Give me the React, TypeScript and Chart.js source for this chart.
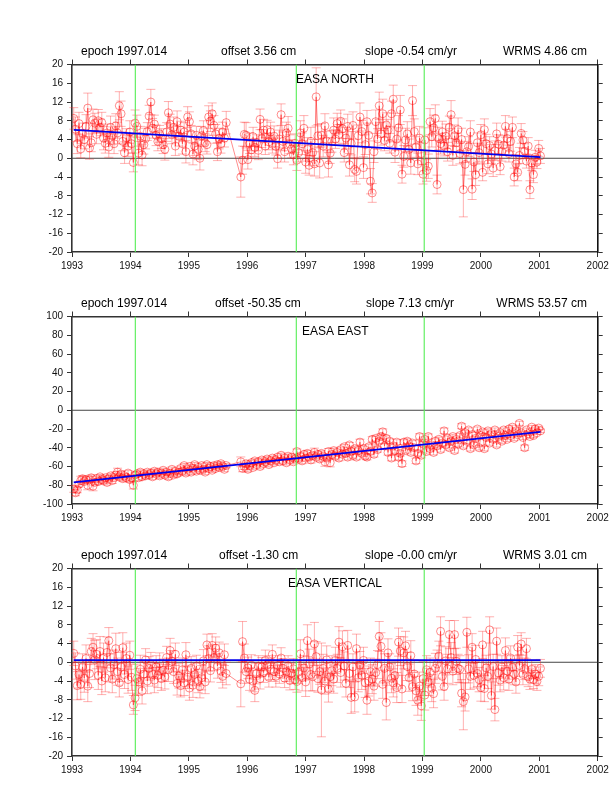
import React, { useEffect, useRef } from "react";
import { Chart, registerables } from "chart.js";

Chart.register(...registerables);

const epochs = [
  1993.03,1993.06,1993.09,1993.12,1993.15,1993.18,1993.21,1993.24,1993.27,1993.30,1993.33,1993.36,1993.39,1993.42,1993.45,1993.48,1993.51,1993.54,1993.57,1993.60,
  1993.63,1993.66,1993.69,1993.72,1993.75,1993.78,1993.81,1993.84,1993.87,1993.90,1993.93,1993.96,1993.99,1994.02,1994.05,1994.08,1994.11,1994.14,1994.17,1994.20,
  1994.23,1994.26,1994.29,1994.32,1994.35,1994.38,1994.41,1994.44,1994.47,1994.50,1994.53,1994.56,1994.59,1994.62,1994.65,1994.68,1994.71,1994.74,1994.77,1994.80,
  1994.83,1994.86,1994.89,1994.92,1994.95,1994.98,1995.01,1995.04,1995.07,1995.10,1995.13,1995.16,1995.19,1995.22,1995.25,1995.28,1995.31,1995.34,1995.37,1995.40,
  1995.43,1995.46,1995.49,1995.52,1995.55,1995.58,1995.61,1995.64,1995.89,1995.92,1995.95,1995.98,1996.01,1996.04,1996.07,1996.10,1996.13,1996.16,1996.19,1996.22,
  1996.25,1996.28,1996.31,1996.34,1996.37,1996.40,1996.43,1996.46,1996.49,1996.52,1996.55,1996.58,1996.61,1996.64,1996.67,1996.70,1996.73,1996.76,1996.79,1996.82,
  1996.85,1996.88,1996.91,1996.94,1996.97,1997.00,1997.03,1997.06,1997.09,1997.12,1997.15,1997.18,1997.21,1997.24,1997.27,1997.30,1997.33,1997.36,1997.39,1997.42,
  1997.45,1997.48,1997.51,1997.54,1997.57,1997.60,1997.63,1997.66,1997.69,1997.72,1997.75,1997.78,1997.81,1997.84,1997.87,1997.90,1997.93,1997.96,1997.99,1998.02,
  1998.05,1998.08,1998.11,1998.14,1998.17,1998.20,1998.23,1998.26,1998.29,1998.32,1998.35,1998.38,1998.41,1998.44,1998.47,1998.50,1998.53,1998.56,1998.59,1998.62,
  1998.65,1998.68,1998.71,1998.74,1998.77,1998.80,1998.83,1998.86,1998.89,1998.92,1998.95,1998.98,1999.01,1999.04,1999.07,1999.10,1999.13,1999.16,1999.19,1999.22,
  1999.25,1999.28,1999.31,1999.34,1999.37,1999.40,1999.43,1999.46,1999.49,1999.52,1999.55,1999.58,1999.61,1999.64,1999.67,1999.70,1999.73,1999.76,1999.79,1999.82,
  1999.85,1999.88,1999.91,1999.94,1999.97,2000.00,2000.03,2000.06,2000.09,2000.12,2000.15,2000.18,2000.21,2000.24,2000.27,2000.30,2000.33,2000.36,2000.39,2000.42,
  2000.45,2000.48,2000.51,2000.54,2000.57,2000.60,2000.63,2000.66,2000.69,2000.72,2000.75,2000.78,2000.81,2000.84,2000.87,2000.90,2000.93,2000.96,2000.99,2001.02,
];

const north = [
  8.5,6.2,3.1,7.4,2.0,5.3,4.0,6.8,10.7,2.2,3.3,8.2,7.5,5.1,8.0,6.6,7.6,4.3,3.2,5.4,
  2.4,6.6,4.8,3.1,6.9,5.4,11.2,9.5,3.6,1.2,4.4,2.6,5.6,3.1,-0.9,7.5,6.8,1.1,4.7,0.7,
  2.9,4.2,5.7,9.0,12.0,6.4,7.3,4.9,3.6,5.2,4.2,2.9,1.9,5.6,9.7,7.3,5.0,6.6,2.6,7.8,
  4.7,6.0,3.1,5.6,1.4,8.8,7.8,5.2,0.9,2.6,4.9,1.9,0.0,4.8,5.9,3.3,2.9,8.8,7.9,9.5,
  7.0,5.2,1.4,4.2,3.1,5.6,4.3,7.6,-4.0,-0.4,5.1,4.9,-0.3,3.2,1.8,4.6,2.3,3.3,1.7,8.3,
  4.2,6.0,2.6,6.1,3.5,5.6,3.0,4.7,2.5,-0.1,4.1,9.3,3.6,1.4,5.4,6.4,3.0,2.0,0.7,3.2,
  -0.4,1.2,5.4,3.1,6.4,-0.8,1.9,-1.5,3.6,1.2,-1.2,13.1,4.8,-1.0,4.9,2.6,6.9,3.7,-1.4,1.1,
  3.6,6.0,4.1,7.4,5.1,7.9,6.3,1.2,4.3,6.8,-1.4,3.2,7.0,-2.4,-2.8,4.8,8.8,5.7,-2.0,2.9,
  7.8,4.9,-4.9,-7.4,1.4,7.8,4.1,11.2,5.2,9.5,3.8,7.1,6.0,3.2,9.5,12.6,1.3,4.1,6.5,10.3,
  -3.4,0.4,3.9,5.2,1.9,-1.0,12.3,5.7,2.4,-1.2,4.3,1.0,-3.4,3.9,-2.6,-1.7,7.8,4.6,6.5,8.5,
  -5.6,4.2,3.1,5.6,2.6,4.7,1.4,6.6,9.3,0.6,4.8,3.3,6.1,1.0,4.0,-6.7,-1.3,1.4,2.5,5.6,
  -6.6,-0.8,-3.5,3.3,1.2,5.0,-3.0,6.1,3.1,-1.2,2.7,0.9,-2.1,1.6,5.2,3.0,-1.8,1.4,2.8,6.8,
  4.2,1.0,3.6,6.6,-4.0,-1.2,-3.0,0.6,5.3,3.9,1.5,-0.6,2.6,-6.7,-1.0,-3.5,0.2,-0.8,2.1,0.5,
];
const northErr = [
  2.3,2.6,2.1,2.4,1.9,2.2,2.0,2.5,3.2,2.4,1.9,2.3,2.1,2.0,2.4,1.8,2.2,2.5,2.1,1.9,
  2.2,2.4,1.9,2.1,2.6,2.3,3.0,2.7,2.0,2.3,1.9,2.2,2.4,2.0,2.0,2.8,2.4,2.5,2.1,2.3,
  2.0,2.2,1.9,2.3,2.7,2.1,1.9,2.2,2.0,1.8,2.1,1.9,2.3,2.0,2.4,2.1,1.9,2.2,2.0,2.3,
  2.1,1.9,2.2,2.0,2.4,2.2,2.1,1.8,2.3,2.0,1.9,2.2,2.5,2.0,2.1,1.9,2.0,2.4,2.2,2.3,
  2.1,2.0,1.9,2.2,2.0,2.1,1.9,2.4,4.3,3.0,2.6,2.7,2.0,2.2,1.8,2.0,1.9,1.7,2.0,2.2,
  1.9,2.3,1.8,2.0,1.7,2.1,1.9,2.2,1.8,2.0,1.9,2.3,2.0,2.2,2.3,2.5,2.0,1.9,2.1,2.0,
  2.2,2.0,2.6,2.3,2.7,2.4,2.5,2.1,3.0,2.8,2.6,6.2,2.4,3.2,2.5,2.3,2.6,2.1,2.6,2.2,
  2.3,2.6,2.0,2.2,2.1,2.4,2.1,2.0,2.3,2.6,2.4,2.5,2.9,2.6,2.7,2.3,3.0,2.4,2.3,2.1,
  2.4,2.6,2.7,2.0,2.3,2.5,2.2,2.9,2.4,3.1,2.2,2.6,2.3,2.1,2.7,3.0,2.2,2.4,2.6,3.1,
  1.9,2.3,2.5,2.6,2.2,2.4,3.2,2.7,2.2,2.3,2.5,2.4,2.1,2.6,2.3,2.6,2.8,2.2,2.7,2.9,
  2.0,2.4,2.2,2.3,2.1,2.6,2.0,2.4,3.0,2.1,2.3,2.0,2.5,2.2,2.4,5.8,2.3,2.2,2.1,2.4,
  2.2,2.0,2.3,2.1,2.0,2.2,1.8,2.3,2.0,2.1,1.9,2.0,1.8,2.1,2.3,2.0,1.7,2.0,2.1,2.3,
  2.0,1.8,2.1,2.2,1.9,2.0,1.8,1.7,2.1,1.8,1.6,1.5,1.8,1.9,1.6,1.7,1.5,1.4,1.7,1.6,
];

const east = [
  -84,-88,-85,-79,-75,-73,-76,-74,-80,-74,-72,-81,-77,-73,-76,-71,-74,-75,-72,-77,
  -73,-70,-75,-72,-69,-66,-71,-68,-73,-70,-72,-67,-74,-72,-80,-69,-68,-72,-66,-71,
  -68,-70,-66,-69,-67,-71,-65,-68,-66,-70,-67,-64,-69,-66,-71,-67,-63,-69,-65,-68,
  -66,-62,-65,-59,-67,-63,-60,-66,-62,-58,-65,-61,-64,-59,-63,-66,-58,-62,-60,-64,
  -59,-62,-58,-61,-57,-60,-63,-59,-55,-62,-60,-57,-63,-59,-56,-61,-54,-58,-55,-60,
  -53,-57,-55,-52,-58,-54,-51,-56,-53,-50,-55,-48,-54,-51,-56,-49,-53,-50,-55,-52,
  -44,-52,-49,-54,-47,-51,-46,-50,-53,-48,-45,-50,-47,-52,-46,-49,-55,-51,-44,-56,
  -47,-43,-49,-45,-51,-42,-47,-39,-46,-50,-37,-44,-48,-41,-50,-43,-34,-46,-41,-49,
  -50,-39,-44,-31,-47,-30,-42,-33,-28,-23,-38,-30,-45,-33,-51,-38,-43,-34,-50,-46,
  -57,-34,-43,-33,-38,-45,-35,-40,-54,-46,-28,-48,-36,-31,-44,-28,-41,-37,-45,-33,
  -38,-31,-42,-35,-22,-37,-30,-40,-33,-28,-43,-31,-36,-27,-17,-38,-24,-33,-21,-41,
  -26,-37,-30,-20,-40,-27,-23,-41,-29,-22,-35,-25,-31,-21,-37,-28,-24,-33,-21,-27,
  -31,-20,-27,-18,-30,-22,-26,-14,-24,-29,-40,-21,-25,-28,-18,-27,-20,-24,-19,-22,
];
const eastErr = [
  3.5,3.2,3.0,2.8,4.6,3.4,2.6,3.0,4.8,2.9,3.1,4.9,2.8,2.6,3.0,2.5,2.7,2.9,2.5,2.8,
  2.7,2.6,3.1,2.5,3.4,4.2,2.8,2.6,2.9,2.5,2.7,2.6,3.0,2.5,4.0,2.7,2.8,3.0,2.6,2.7,
  2.5,2.7,2.4,2.6,2.5,2.8,2.4,2.6,2.5,2.7,2.4,2.3,2.6,2.5,2.8,2.6,2.4,2.7,2.5,2.6,
  2.5,2.4,2.6,2.3,2.7,2.5,2.4,2.6,2.5,2.3,2.6,2.4,2.5,2.3,2.4,2.6,2.3,2.5,2.4,2.5,
  2.4,2.5,2.3,2.4,2.3,2.4,2.5,2.3,5.2,3.6,3.2,2.9,2.8,2.6,2.4,2.5,2.3,2.4,2.3,2.5,
  2.4,2.5,2.3,2.4,2.5,2.3,2.2,2.4,2.3,2.2,2.4,2.3,2.4,2.2,2.5,2.3,2.4,2.2,2.4,2.3,
  2.6,2.5,2.7,3.0,2.6,2.8,3.2,2.7,3.4,2.9,4.6,2.8,2.6,3.0,2.7,2.8,4.8,2.6,3.2,4.4,
  2.7,2.6,2.8,2.5,3.0,2.6,2.8,2.5,2.7,3.0,2.6,2.7,2.9,2.5,2.8,2.6,3.1,2.7,2.6,2.8,
  2.9,2.6,2.7,2.8,2.9,2.6,2.7,2.8,3.0,3.1,2.6,2.7,2.8,2.6,2.9,2.7,2.8,2.6,2.9,2.8,
  3.0,2.5,2.7,2.6,2.5,2.7,2.6,2.5,2.9,2.7,2.9,2.8,2.7,2.5,2.6,2.7,2.5,2.4,2.6,2.5,
  2.5,2.4,2.6,2.5,3.0,2.4,2.5,2.6,2.4,2.3,2.6,2.4,2.5,2.3,2.6,2.4,2.3,2.4,2.3,2.5,
  2.3,2.4,2.3,2.2,2.4,2.3,2.2,2.4,2.3,2.2,2.3,2.2,2.3,2.1,2.3,2.2,2.1,2.3,2.1,2.2,
  2.3,2.1,2.2,2.1,2.2,2.1,2.2,2.2,2.0,2.1,2.8,2.0,2.1,2.0,1.9,2.0,1.9,1.8,1.9,1.8,
];

const vertical = [
  1.9,-0.8,-5.0,-2.6,-4.7,-1.0,-3.4,0.8,-5.1,-2.4,2.3,3.2,0.5,1.7,-2.8,2.3,-4.0,1.0,-3.3,2.1,
  4.6,-1.2,-3.6,-0.5,2.9,-2.0,-4.4,-1.0,3.1,-2.6,0.8,-3.7,1.5,-3.2,-9.1,-7.6,-3.5,-4.2,-1.5,-6.1,
  -2.5,0.5,-4.0,-1.3,-0.5,-2.6,-3.8,-1.0,-2.8,-0.3,-3.5,-1.7,-3.1,1.0,-1.6,2.5,0.2,-2.0,1.7,-4.5,
  -2.9,-5.0,-1.6,-4.4,1.6,-3.2,-5.5,-1.3,-4.9,-2.6,-0.8,-4.0,-5.2,-3.3,0.3,-4.2,3.7,0.8,-1.8,3.6,
  1.0,3.0,-0.8,2.0,-1.9,-3.0,1.6,-2.4,-4.6,4.4,0.9,-2.0,-1.2,-3.6,-0.6,-4.0,-6.0,-2.4,-0.9,-3.5,
  -1.0,-2.2,0.4,-0.6,-3.2,-1.5,1.7,-2.0,-3.0,-0.7,-2.5,0.9,-1.3,-3.4,-2.0,-0.8,-3.9,-2.4,-1.4,-3.7,
  -4.1,-2.1,1.8,-3.3,-1.2,-4.2,4.6,-0.4,-2.6,-3.1,3.9,1.2,-3.5,-2.0,-5.9,-1.3,-4.0,0.5,-5.7,-3.1,
  -1.8,-3.6,0.4,-1.3,4.3,-2.2,3.3,-0.8,-4.5,3.6,-2.4,-7.5,-1.0,-7.4,2.9,-3.3,-0.6,-2.8,0.4,-4.4,
  -8.1,-4.0,-2.0,-3.6,-5.1,-2.2,-0.5,5.5,3.4,-4.7,-1.3,-8.6,2.0,-1.0,-3.4,-4.4,-2.8,-5.4,4.3,2.4,
  -5.7,2.0,3.5,-0.9,-3.3,1.4,-5.2,-2.5,-6.1,-8.1,-5.1,-9.3,-3.5,-7.0,-1.6,-4.2,-2.2,-5.5,-6.7,-1.3,
  -0.4,1.3,6.6,-3.0,-5.2,0.3,-1.4,5.9,1.0,-1.9,5.9,0.2,-1.3,-1.5,-6.6,-8.4,-7.4,6.4,-1.4,-3.0,
  3.2,-2.8,0.6,-2.4,-3.7,-5.4,3.7,-5.6,-1.2,-3.0,6.9,-7.1,-0.9,-10.1,4.5,-2.3,-3.8,-1.0,-3.3,2.5,
  -1.9,-3.6,0.9,-1.1,-2.5,-4.2,3.2,-0.7,3.9,-2.6,-1.4,2.9,-3.1,-3.6,-1.5,-3.7,-2.5,-4.1,-3.0,-1.3,
];
const verticalErr = [
  2.6,2.8,3.0,2.9,3.2,2.8,3.0,2.9,3.3,3.0,2.8,2.9,4.2,3.1,3.0,3.2,2.9,3.1,3.0,3.3,
  2.8,3.0,2.9,3.1,3.3,2.9,3.0,3.1,3.2,3.0,3.3,2.9,3.0,2.8,2.0,2.7,3.1,2.9,3.0,2.8,
  2.6,2.4,2.7,2.5,2.6,2.5,2.7,2.4,2.6,2.3,2.5,2.4,2.6,2.4,2.5,2.6,2.3,2.5,2.4,2.5,
  2.6,2.4,2.5,2.7,2.6,2.4,2.6,2.5,2.6,2.4,2.3,2.5,2.4,2.6,2.4,2.5,2.3,2.7,2.4,2.5,
  2.8,2.4,2.6,2.3,2.4,2.5,2.3,2.4,4.9,4.3,3.0,2.5,2.3,2.4,2.2,2.3,2.4,2.2,2.3,2.2,
  2.0,2.1,2.2,2.0,2.1,2.2,2.0,2.1,2.3,2.1,2.0,2.2,2.1,2.0,2.1,2.2,2.0,2.1,2.2,2.1,
  2.3,2.4,3.0,2.8,2.6,3.1,3.4,3.2,3.5,3.0,4.6,3.2,2.9,2.7,10.0,3.0,2.8,3.0,2.8,3.1,
  3.2,3.0,2.8,3.0,3.3,3.1,3.4,3.0,2.9,3.2,3.0,3.4,2.8,3.2,3.1,3.0,2.9,3.0,2.8,3.1,
  3.0,3.2,2.9,3.1,3.0,2.9,3.0,3.2,2.9,3.0,3.1,3.7,3.0,2.8,3.1,3.0,2.9,3.2,3.0,3.1,
  2.9,3.4,3.1,3.0,2.9,3.2,3.0,3.0,3.1,3.2,3.0,3.1,3.6,3.2,3.0,2.9,3.1,2.9,3.0,3.2,
  3.0,3.2,3.1,2.9,2.9,3.0,3.1,3.0,3.2,2.9,3.0,2.8,3.0,2.9,2.9,6.0,3.0,3.2,3.0,2.8,
  2.9,2.7,3.0,2.8,2.6,2.9,2.9,2.8,2.7,2.6,2.8,2.9,2.6,2.4,2.8,2.6,2.5,2.4,2.6,2.7,
  2.5,2.4,2.6,2.5,2.3,2.4,2.5,2.3,2.4,2.2,2.3,2.2,2.1,2.2,2.0,1.9,2.0,1.9,2.0,1.9,
];

const fitEpochs = [1993.03, 2001.02];
const northFit = [6.05, 0.25];
const eastFit = [-77, -23];
const verticalFit = [0.45, 0.45];

const eventEpochs = [1994.084, 1996.84, 1999.03];
const axisYears = [1993, 2002];

const northTicks = [20, -20, 4];
const eastTicks = [100, -100, 20];
const verticalTicks = [20, -20, 4];

const panelTitles = ["EASA NORTH", "EASA EAST", "EASA VERTICAL"];
const epochLabels = ["epoch 1997.014", "epoch 1997.014", "epoch 1997.014"];
const offsetLabels = ["offset 3.56 cm", "offset -50.35 cm", "offset -1.30 cm"];
const slopeLabels = ["slope -0.54 cm/yr", "slope 7.13 cm/yr", "slope -0.00 cm/yr"];
const wrmsLabels = ["WRMS 4.86 cm", "WRMS 53.57 cm", "WRMS 3.01 cm"];

const FONT = "'Liberation Sans', Arial, sans-serif";
const AXIS = "#333333";

const CANVAS_W = 612;
const CANVAS_H = 252;
const AREA_TOP = 40.5;
const AREA_BOTTOM = 228;
const AREA_LEFT = 72;
const AREA_RIGHT = 597.7;

type PanelProps = {
  index: number;
  top: number;
  values: number[];
  errors: number[];
  fit: number[];
  ticks: number[];
  titleX: number;
  offsetX: number;
  slopeX: number;
};

function Panel({ index, top, values, errors, fit, ticks, titleX, offsetX, slopeX }: PanelProps) {
  const ref = useRef<HTMLCanvasElement | null>(null);
  useEffect(() => {
    if (!ref.current) return;
    const headerPlugin = {
      id: "header",
      afterDraw(chart: any) {
        const c = chart.ctx;
        c.save();
        c.fillStyle = "#000";
        c.font = `12px ${FONT}`;
        c.textBaseline = "alphabetic";
        c.textAlign = "left";
        c.fillText(epochLabels[index], 81, 31);
        c.fillText(offsetLabels[index], offsetX, 31);
        c.fillText(slopeLabels[index], slopeX, 31);
        c.textAlign = "right";
        c.fillText(wrmsLabels[index], 587, 31);
        c.textAlign = "left";
        c.fillText(panelTitles[index], titleX, 59);
        c.restore();
      },
    };
    const errorBars = {
      id: "errorBars",
      beforeDatasetDraw(chart: any, args: any) {
        if (args.index !== 0) return;
        const c = chart.ctx;
        const xs = chart.scales.x;
        const ys = chart.scales.y;
        c.save();
        c.strokeStyle = "rgba(255,40,40,0.36)";
        c.lineWidth = 1;
        epochs.forEach((t, i) => {
          const x = xs.getPixelForValue(t);
          const hi = ys.getPixelForValue(values[i] + errors[i]);
          const lo = ys.getPixelForValue(values[i] - errors[i]);
          c.beginPath();
          c.moveTo(x, hi);
          c.lineTo(x, lo);
          c.moveTo(x - 4.5, hi);
          c.lineTo(x + 4.5, hi);
          c.moveTo(x - 4.5, lo);
          c.lineTo(x + 4.5, lo);
          c.stroke();
        });
        c.restore();
      },
    };
    const [yMax, yMin, yStep] = ticks;
    const fixWidth = (w: number) => (s: any) => {
      s.width = w;
    };
    const fixHeight = (h: number) => (s: any) => {
      s.height = h;
    };
    const tickGrid = {
      display: true,
      drawOnChartArea: false,
      drawTicks: true,
      tickLength: 5,
      color: AXIS,
      lineWidth: 1,
    };
    const chart = new Chart(ref.current, {
      type: "line",
      data: {
        datasets: [
          {
            label: "series",
            data: epochs.map((t, i) => ({ x: t, y: values[i] })),
            order: 3,
            borderColor: "rgba(255,0,0,0.5)",
            borderWidth: 0.9,
            pointRadius: 4,
            pointBorderWidth: 1,
            pointBorderColor: "rgba(255,0,0,0.45)",
            pointBackgroundColor: "rgba(0,0,0,0)",
            tension: 0,
          },
          {
            label: "fit",
            data: fitEpochs.map((t, i) => ({ x: t, y: fit[i] })),
            order: 0,
            borderColor: "#0000ee",
            borderWidth: 1.8,
            pointRadius: 0,
          },
          ...eventEpochs.map((t, k) => ({
            label: `event ${k + 1}`,
            data: [
              { x: t, y: yMin },
              { x: t, y: yMax },
            ],
            order: 1,
            borderColor: "#55ee55",
            borderWidth: 1.1,
            pointRadius: 0,
          })),
          {
            label: "zero",
            data: axisYears.map((t) => ({ x: t, y: 0 })),
            order: 4,
            borderColor: "#444444",
            borderWidth: 1,
            pointRadius: 0,
          },
        ],
      },
      options: {
        animation: false,
        responsive: false,
        devicePixelRatio: 1,
        parsing: false,
        normalized: true,
        layout: { padding: 0 },
        plugins: {
          legend: { display: false },
          title: { display: false },
          tooltip: { enabled: false },
        },
        scales: {
          x: {
            type: "linear",
            position: "bottom",
            min: axisYears[0],
            max: axisYears[1],
            afterFit: fixHeight(CANVAS_H - AREA_BOTTOM),
            grid: tickGrid,
            border: { color: AXIS, width: 1.6 },
            ticks: {
              stepSize: 1,
              autoSkip: false,
              maxRotation: 0,
              padding: 3,
              color: "#111",
              font: { family: FONT, size: 10 },
              callback: (v: any) => String(v),
            },
          },
          xTop: {
            type: "linear",
            position: "top",
            min: axisYears[0],
            max: axisYears[1],
            afterFit: fixHeight(AREA_TOP),
            grid: tickGrid,
            border: { color: AXIS, width: 1.6 },
            ticks: { stepSize: 1, display: false },
          },
          y: {
            type: "linear",
            position: "left",
            min: yMin,
            max: yMax,
            afterFit: fixWidth(AREA_LEFT),
            grid: tickGrid,
            border: { color: AXIS, width: 1.6 },
            ticks: {
              stepSize: yStep,
              autoSkip: false,
              padding: 4,
              color: "#111",
              font: { family: FONT, size: 10 },
              callback: (v: any) => String(v),
            },
          },
          yRight: {
            type: "linear",
            position: "right",
            min: yMin,
            max: yMax,
            afterFit: fixWidth(CANVAS_W - AREA_RIGHT),
            grid: tickGrid,
            border: { color: "#111", width: 1.6 },
            ticks: { stepSize: yStep, autoSkip: false, display: false },
          },
        },
      },
      plugins: [errorBars, headerPlugin],
    } as any);
    return () => chart.destroy();
  }, []);
  return (
    <canvas
      ref={ref}
      width={CANVAS_W}
      height={CANVAS_H}
      style={{ position: "absolute", left: 0, top, width: CANVAS_W, height: CANVAS_H }}
    />
  );
}

export default function App() {
  return (
    <div style={{ position: "absolute", left: 0, top: 0, width: 612, height: 792, background: "#fff" }}>
      <Panel index={0} top={24} values={north} errors={northErr} fit={northFit} ticks={northTicks} titleX={296} offsetX={221} slopeX={365} />
      <Panel index={1} top={276} values={east} errors={eastErr} fit={eastFit} ticks={eastTicks} titleX={302} offsetX={215} slopeX={366} />
      <Panel index={2} top={528} values={vertical} errors={verticalErr} fit={verticalFit} ticks={verticalTicks} titleX={288} offsetX={219} slopeX={365} />
    </div>
  );
}
